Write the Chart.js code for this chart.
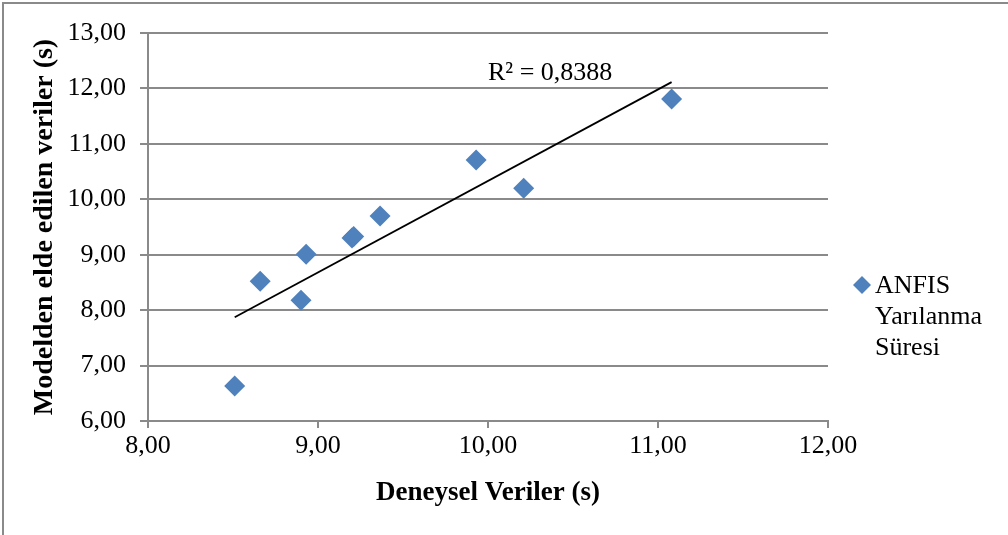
<!DOCTYPE html>
<html>
<head>
<meta charset="utf-8">
<script src="https://cdn.jsdelivr.net/npm/chart.js@4/dist/chart.umd.min.js"></script>
<style>
  html, body { margin: 0; padding: 0; background: #fff; }
  canvas { display: block; }
</style>
</head>
<body>
<canvas id="grafik" width="1008" height="535"></canvas>
<script>
// Deneysel (x) ve model (y) değerleri
const deneysel = [8.51, 8.66, 8.90, 8.93, 9.20, 9.21, 9.365, 9.93, 10.21, 11.08];
const model    = [6.63, 8.52, 8.18, 9.01, 9.30, 9.33, 9.70, 10.71, 10.20, 11.81];
const xTicks = [8, 9, 10, 11, 12];
const yTicks = [6, 7, 8, 9, 10, 11, 12, 13];
const seriName = ['ANFIS', 'Yarılanma', 'Süresi'];
const r2Text = 'R² = 0,8388';

const FONT = "'Liberation Serif', 'Times New Roman', serif";
const MAVI = '#4f81bd';
const GRI = '#8a8a8a';

// Doğrusal eğilim çizgisi (en küçük kareler)
function trend(xs, ys) {
    const n = xs.length;
    const mx = xs.reduce((a, b) => a + b, 0) / n;
    const my = ys.reduce((a, b) => a + b, 0) / n;
    let sxy = 0, sxx = 0;
    xs.forEach((x, i) => { sxy += (x - mx) * (ys[i] - my); sxx += (x - mx) * (x - mx); });
    const m = sxy / sxx;
    const b = my - m * mx;
    const x0 = Math.min(...xs), x1 = Math.max(...xs);
    return [{ x: x0, y: m * x0 + b }, { x: x1, y: m * x1 + b }];
}

const noktalar = deneysel.map((x, i) => ({ x: x, y: model[i] }));
const fmt = v => v.toFixed(2).replace('.', ',');

const cercevePlugin = {
    id: 'cerceve',
    beforeDraw(chart) {
        const ctx = chart.ctx;
        ctx.save();
        ctx.strokeStyle = GRI;
        ctx.lineWidth = 2;
        ctx.beginPath();
        ctx.moveTo(3, chart.height);
        ctx.lineTo(3, 3);
        ctx.lineTo(chart.width, 3);
        ctx.stroke();
        ctx.restore();
    },
    afterDraw(chart) {
        const ctx = chart.ctx;
        const a = chart.chartArea;
        ctx.save();
        // R² etiketi
        ctx.fillStyle = '#000';
        ctx.font = '26px ' + FONT;
        ctx.textBaseline = 'alphabetic';
        ctx.textAlign = 'left';
        ctx.fillText(r2Text, a.left + 340, a.top + 47);

        // Gösterge
        const lx = a.right + 34, ly = 285;
        ctx.fillStyle = MAVI;
        ctx.beginPath();
        ctx.moveTo(lx, ly - 9);
        ctx.lineTo(lx + 9, ly);
        ctx.lineTo(lx, ly + 9);
        ctx.lineTo(lx - 9, ly);
        ctx.closePath();
        ctx.fill();
        ctx.fillStyle = '#000';
        seriName.forEach((t, i) => ctx.fillText(t, lx + 13, ly + 8 + i * 31));
        ctx.restore();
    }
};

new Chart(document.getElementById('grafik'), {
    type: 'scatter',
    data: {
        datasets: [{
            label: seriName.join(' '),
            data: noktalar,
            pointStyle: 'rectRot',
            pointRadius: 10.5,
            pointHoverRadius: 10.5,
            backgroundColor: MAVI,
            borderColor: MAVI,
            borderWidth: 0,
            order: 2
        }, {
            label: 'Trend',
            type: 'line',
            data: trend(deneysel, model),
            borderColor: '#000',
            borderWidth: 1.8,
            pointRadius: 0,
            fill: false,
            order: 1
        }]
    },
    options: {
        responsive: false,
        animation: false,
        layout: { padding: { left: 0, top: 33, right: 180, bottom: 0 } },
        plugins: {
            legend: { display: false },
            tooltip: { enabled: false }
        },
        scales: {
            x: {
                type: 'linear',
                min: 8, max: 12,
                afterBuildTicks: s => { s.ticks = xTicks.map(v => ({ value: v })); },
                afterFit: s => { s.height = 114; },
                grid: { drawOnChartArea: false, drawTicks: true, tickLength: 7, color: GRI, lineWidth: 2 },
                border: { color: GRI, width: 2 },
                ticks: { color: '#000', font: { family: FONT, size: 26 }, padding: 3, callback: v => fmt(v), maxRotation: 0 },
                title: { display: true, text: 'Deneysel Veriler (s)', color: '#000', font: { family: FONT, size: 27, weight: 'bold' }, padding: { top: 26, bottom: 26 } }
            },
            y: {
                min: 6, max: 13,
                afterBuildTicks: s => { s.ticks = yTicks.map(v => ({ value: v })); },
                afterFit: s => { s.width = 148; },
                grid: { drawTicks: true, tickLength: 8, color: GRI, lineWidth: 2 },
                border: { color: GRI, width: 2 },
                ticks: { color: '#000', font: { family: FONT, size: 26 }, padding: 14, callback: v => fmt(v) },
                title: { display: true, text: 'Modelden elde edilen veriler (s)', color: '#000', font: { family: FONT, size: 28, weight: 'bold' }, padding: { top: 28, bottom: 0 } }
            }
        }
    },
    plugins: [cercevePlugin]
});
</script>
</body>
</html>
